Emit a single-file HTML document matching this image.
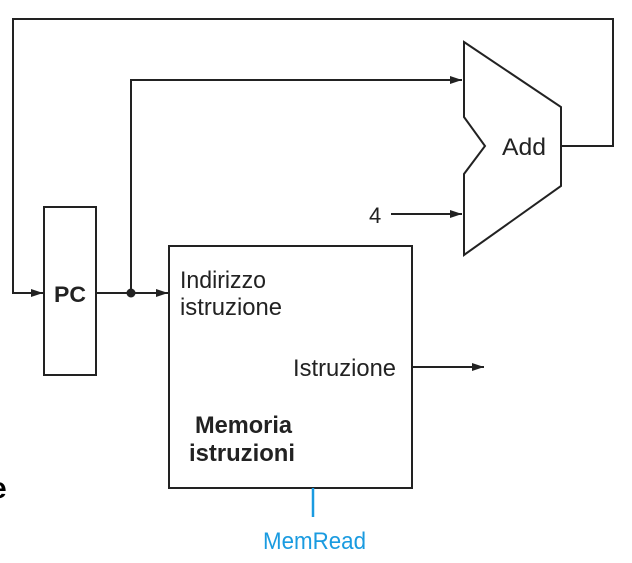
<!DOCTYPE html>
<html><head><style>
body{margin:0;background:#fff;}
svg{display:block;}
text{font-family:"Liberation Sans",sans-serif;}
</style></head><body>
<svg width="632" height="563" viewBox="0 0 632 563">
<defs><marker id="a" markerWidth="12" markerHeight="8" refX="12" refY="4" orient="auto" markerUnits="userSpaceOnUse"><path d="M0,0 L12,4 L0,8 z" fill="#222"/></marker></defs>
<g stroke="#222" stroke-width="2" fill="none">
<polyline points="561,146 613,146 613,19 13,19 13,293 43,293" marker-end="url(#a)"/>
<line x1="96" y1="293" x2="168" y2="293" marker-end="url(#a)"/>
<polyline points="131,293 131,80 462,80" marker-end="url(#a)"/>
<line x1="391" y1="214" x2="462" y2="214" marker-end="url(#a)"/>
<line x1="412" y1="367" x2="484" y2="367" marker-end="url(#a)"/>
<polygon points="464,42 561,107 561,186 464,255 464,174 485,146 464,117"/>
<rect x="44" y="207" width="52" height="168"/>
<rect x="169" y="246" width="243" height="242"/>
</g>
<circle cx="131" cy="293" r="4.5" fill="#222"/>
<line x1="313" y1="488" x2="313" y2="517" stroke="#1a9be0" stroke-width="2.5"/>
<g fill="#222" font-size="24">
<text x="502" y="155" textLength="44" lengthAdjust="spacingAndGlyphs">Add</text>
<text x="369" y="223" font-size="22">4</text>
<text x="54" y="302" font-weight="bold" font-size="22" textLength="32" lengthAdjust="spacingAndGlyphs">PC</text>
<text x="180" y="288" textLength="86" lengthAdjust="spacingAndGlyphs">Indirizzo</text>
<text x="180" y="315" textLength="102" lengthAdjust="spacingAndGlyphs">istruzione</text>
<text x="293" y="376" textLength="103" lengthAdjust="spacingAndGlyphs">Istruzione</text>
<text x="195" y="433" font-weight="bold" textLength="97" lengthAdjust="spacingAndGlyphs">Memoria</text>
<text x="189" y="461" font-weight="bold" textLength="106" lengthAdjust="spacingAndGlyphs">istruzioni</text>
<text x="263" y="549" fill="#1a9be0" textLength="103" lengthAdjust="spacingAndGlyphs">MemRead</text>
<text x="-10" y="498" font-size="30" font-weight="bold" fill="#000">e</text>
</g>
</svg>
</body></html>
